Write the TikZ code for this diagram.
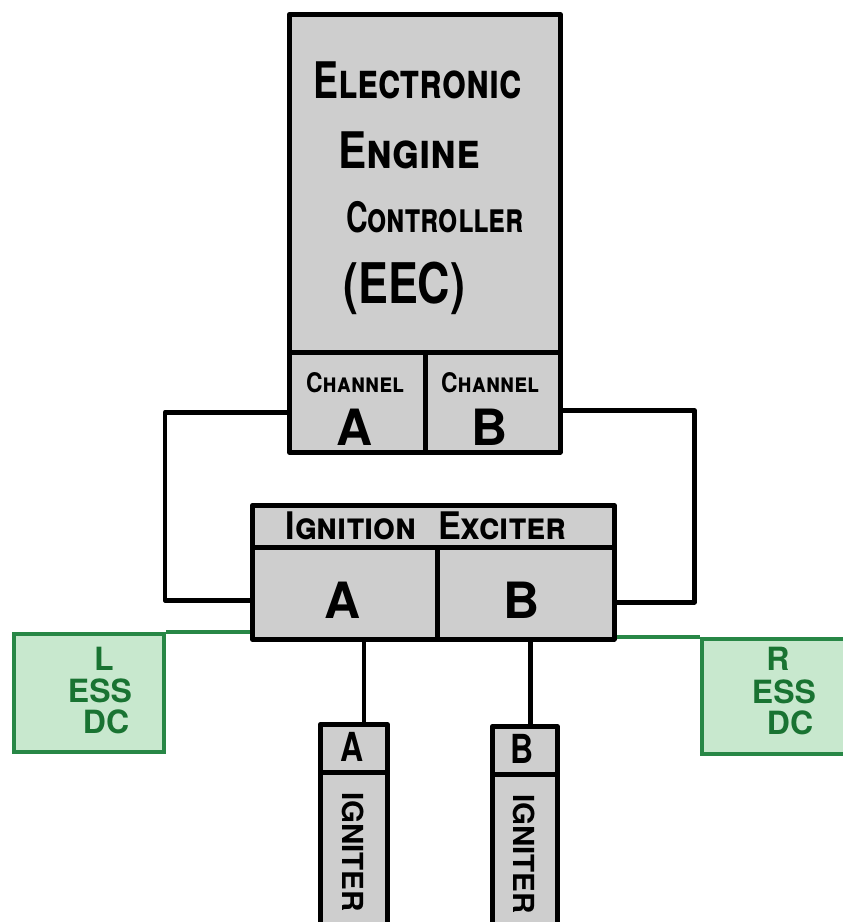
\documentclass[tikz,border=0pt]{standalone}
\usepackage{fontspec}
\setmainfont{TeX Gyre Heros}
\definecolor{boxgray}{RGB}{206,206,206}
\definecolor{essline}{RGB}{40,135,70}
\definecolor{essfill}{RGB}{200,232,206}
\definecolor{esstext}{RGB}{25,115,50}
\tikzset{
  blk/.style={draw=black, line width=4.5pt, fill=boxgray, anchor=north west, inner sep=0pt, line join=round},
  essbox/.style={draw=essline, line width=4pt, fill=essfill, anchor=north west, inner sep=0pt},
  wire/.style={draw=black, line width=4.5pt, line join=round},
  gwire/.style={draw=essline, line width=4pt},
  lbl/.style={inner sep=0pt},
  esslbl/.style={inner sep=0pt, text=esstext, font=\fontsize{32}{32}\selectfont\bfseries},
}
\begin{document}
\begin{tikzpicture}[x=1pt,y=-1pt]
\useasboundingbox (0,0) rectangle (843,922);
\clip (0,0) rectangle (843,922);
% EEC
\node[blk, minimum width=271pt, minimum height=338pt] (eec) at (287,12) {};
\node[blk, minimum width=136pt, minimum height=100pt] (chA) at (287,350) {};
\node[blk, minimum width=135pt, minimum height=100pt] (chB) at (423,350) {};
\node[lbl, anchor=west, font=\fontsize{48}{48}\selectfont\scshape\bfseries] (t1) at (313,80) {\scalebox{0.78}[1.05]{Electronic}};
\node[lbl, anchor=west, font=\fontsize{48}{48}\selectfont\scshape\bfseries] (t2) at (338,150) {\scalebox{0.88}[1.05]{Engine}};
\node[lbl, anchor=west, font=\fontsize{40}{40}\selectfont\scshape\bfseries] (t3) at (346,217) {\scalebox{0.75}[1.05]{Controller}};
\node[lbl, anchor=west, font=\fontsize{56}{56}\selectfont\bfseries] (t4) at (343,288) {\scalebox{0.8}[1]{(EEC)}};
\node[lbl, font=\fontsize{27}{27}\selectfont\scshape\bfseries] (cha1) at (355,383) {\scalebox{0.85}[1]{Channel}};
\node[lbl, font=\fontsize{50}{50}\selectfont\bfseries] (cha2) at (355,427) {A};
\node[lbl, font=\fontsize{27}{27}\selectfont\scshape\bfseries] (chb1) at (490,383) {\scalebox{0.85}[1]{Channel}};
\node[lbl, font=\fontsize{50}{50}\selectfont\bfseries] (chb2) at (490,427) {B};
% Ignition exciter
\node[blk, minimum width=362pt, minimum height=42pt] (ex) at (250,503) {};
\node[blk, minimum width=185pt, minimum height=92pt] (exA) at (250,545) {};
\node[blk, minimum width=177pt, minimum height=92pt] (exB) at (435,545) {};
\node[lbl, font=\fontsize{38}{38}\selectfont\scshape\bfseries] (ext) at (426,526) {\scalebox{0.9}[1]{Ignition\hspace{24pt}Exciter}};
\node[lbl, font=\fontsize{50}{50}\selectfont\bfseries] (exAt) at (343,600) {A};
\node[lbl, font=\fontsize{50}{50}\selectfont\bfseries] (exBt) at (522,600) {B};
% ESS DC
\node[essbox, minimum width=150pt, minimum height=118pt] (less) at (12,632) {};
\node[essbox, minimum width=150pt, minimum height=115pt] (ress) at (700,637) {};
\node[esslbl] (l1) at (104,659) {L};
\node[esslbl] (l2) at (100,691) {ESS};
\node[esslbl] (l3) at (106,722) {DC};
\node[esslbl] (r1) at (778,659) {R};
\node[esslbl] (r2) at (784,692) {ESS};
\node[esslbl] (r3) at (790,723) {DC};
% Igniters
\node[blk, minimum width=67pt, minimum height=48pt] (igA) at (318,722) {};
\node[blk, minimum width=67pt, minimum height=170pt] (igAb) at (318,770) {};
\node[blk, minimum width=65pt, minimum height=48pt] (igB) at (490,724) {};
\node[blk, minimum width=65pt, minimum height=170pt] (igBb) at (490,772) {};
\node[lbl, font=\fontsize{40}{40}\selectfont\bfseries] (igAt) at (352,747) {\scalebox{0.8}[1]{A}};
\node[lbl, font=\fontsize{40}{40}\selectfont\bfseries] (igBt) at (522,749) {\scalebox{0.8}[1]{B}};
\node[lbl, rotate=-90, font=\fontsize{29}{29}\selectfont\bfseries] (igAv) at (353,852) {\scalebox{1.02}[1]{IGNITER}};
\node[lbl, rotate=-90, font=\fontsize{29}{29}\selectfont\bfseries] (igBv) at (524,854) {\scalebox{1.02}[1]{IGNITER}};
% connectors
\draw[wire] ([yshift=-10pt]chA.west) -- ++(-122,0) |- ([yshift=-7pt]exA.west);
\draw[wire] ([yshift=-8pt]chB.east) -- ++(132,0) |- ([yshift=-9pt]exB.east);
\draw[wire] ([xshift=10pt]igA.north) -- ([xshift=10pt]igA.north |- exA.south);
\draw[wire] ([xshift=5.5pt]igB.north) -- ([xshift=5.5pt]igB.north |- exB.south);
\draw[gwire] (less.north east) -- (less.north east -| exA.west);
\draw[gwire] (ress.north west) -- (ress.north west -| exB.east);
\end{tikzpicture}
\end{document}
